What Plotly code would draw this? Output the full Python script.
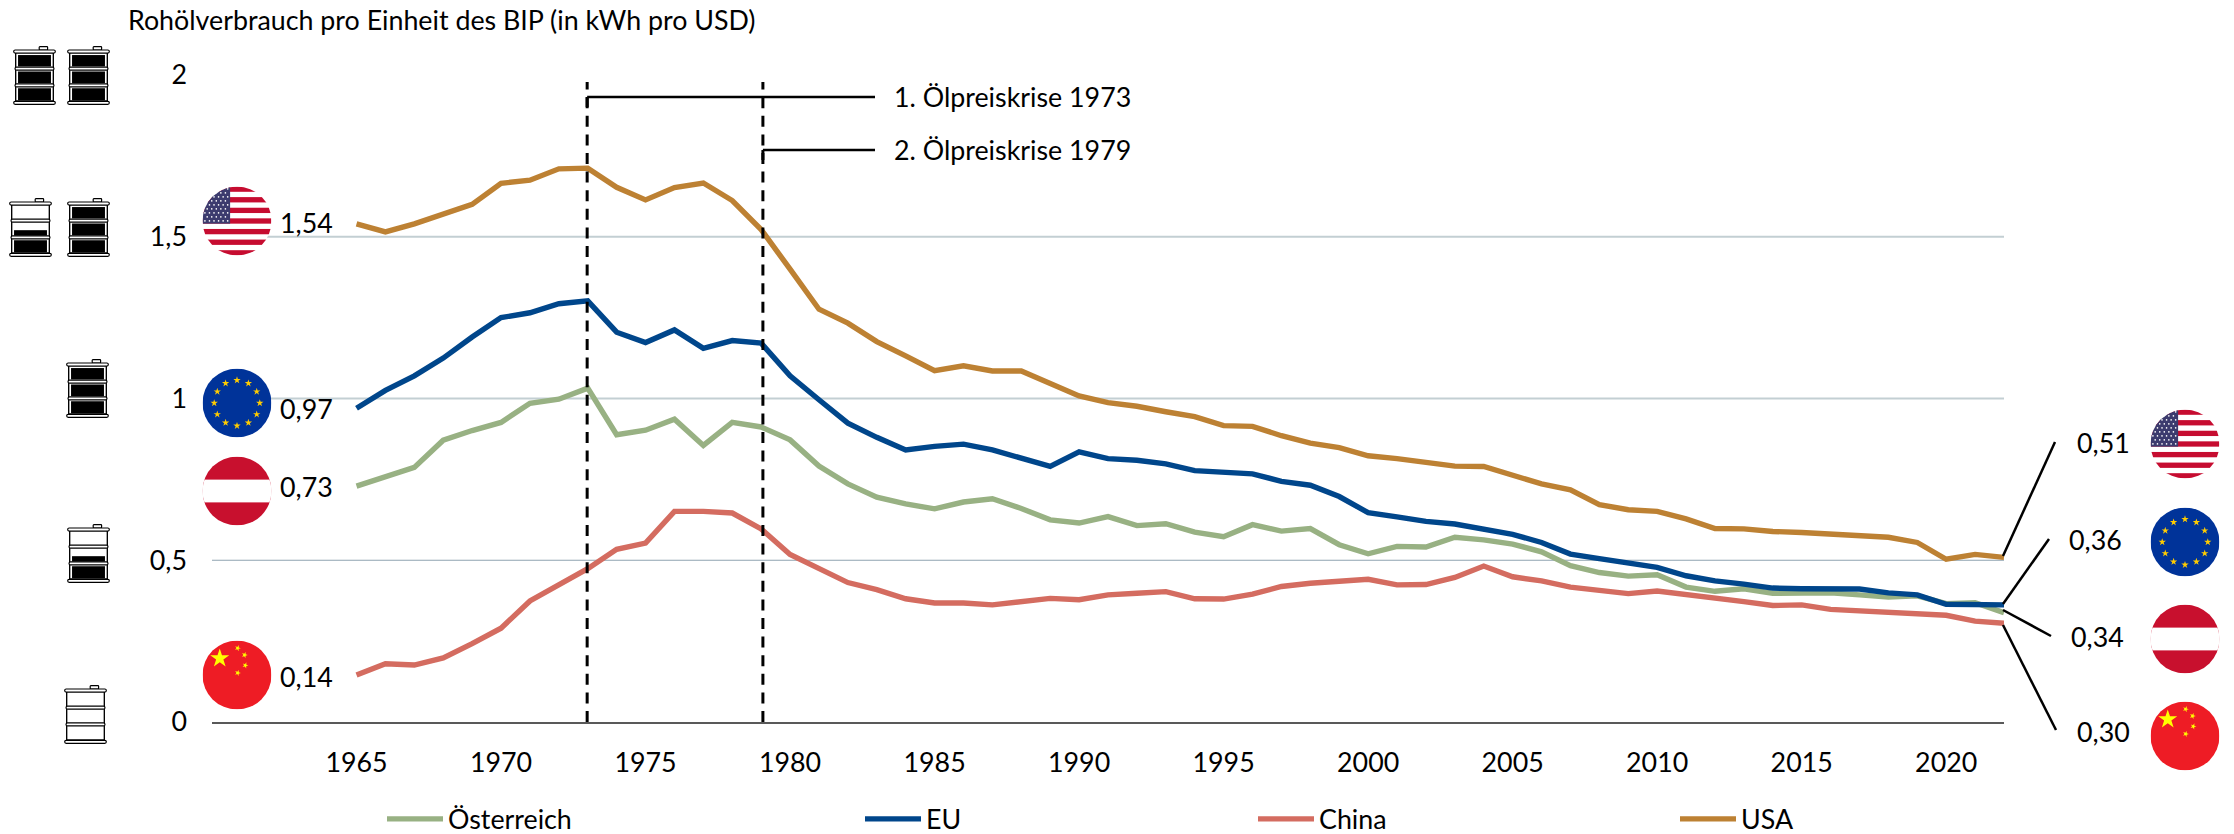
import base64, math
import plotly.graph_objects as go

YEARS = list(range(1965, 2023))
AUSTRIA = [.729,.760,.787,.871,.901,.926,.985,.998,1.032,.888,.902,.936,.855,.926,.912,.872,.791,.736,.695,.674,
           .659,.680,.690,.660,.625,.615,.635,.607,.613,.587,.573,.610,.590,.598,.548,.520,.543,.541,.571,.563,
           .550,.526,.483,.462,.451,.455,.417,.404,.412,.398,.398,.399,.393,.386,.390,.366,.369,.338]
EU = [.970,1.025,1.070,1.125,1.190,1.250,1.265,1.293,1.302,1.205,1.173,1.212,1.155,1.179,1.171,1.070,.996,.924,.880,.841,
      .852,.859,.841,.815,.790,.835,.814,.809,.798,.777,.770,.767,.744,.732,.697,.647,.634,.620,.612,.594,
      .580,.555,.519,.505,.493,.478,.452,.436,.426,.414,.412,.410,.411,.399,.393,.364,.363,.362]
CHINA = [.145,.180,.176,.198,.242,.290,.374,.423,.474,.534,.553,.651,.651,.646,.597,.518,.474,.431,.409,.381,
         .368,.368,.362,.370,.382,.378,.393,.398,.403,.381,.380,.395,.419,.429,.436,.441,.424,.425,.447,.482,
         .449,.436,.417,.408,.397,.405,.395,.384,.372,.360,.362,.348,.343,.338,.334,.330,.312,.305]
USA = [1.540,1.515,1.540,1.570,1.600,1.665,1.675,1.710,1.712,1.653,1.614,1.652,1.666,1.612,1.522,1.400,1.276,1.233,1.176,1.132,
       1.086,1.101,1.085,1.085,1.047,1.008,.987,.976,.959,.944,.916,.914,.885,.862,.848,.823,.814,.801,.791,.790,
       .765,.736,.718,.672,.656,.651,.628,.598,.597,.589,.586,.581,.575,.571,.555,.503,.518,.509]

SERIES_NAMES = ["Österreich", "EU", "China", "USA"]
SERIES_COLORS = ["#98B183", "#00468B", "#D46C60", "#BD8133"]
X_TICKS = list(range(1965, 2021, 5))
Y_TICKS = [0, 0.5, 1, 1.5, 2]
Y_LABELS = ["0", "0,5", "1", "1,5", "2"]
TITLE = "Rohölverbrauch pro Einheit des BIP (in kWh pro USD)"
CRISIS_YEARS = [1973, 1979]
CRISIS_LABELS = ["1. Ölpreiskrise 1973", "2. Ölpreiskrise 1979"]
START_LABELS = ["0,73", "0,97", "0,14", "1,54"]
END_LABELS = ["0,34", "0,36", "0,30", "0,51"]

W, H = 2234, 834
L, R, T, B = 212, 2004, 75, 722
FONT = "Lato"
FS = 26.8


def px(x):
    return (x - L) / (R - L)


def py(y):
    return (B - y) / (B - T)


def uri(svg):
    return "data:image/svg+xml;base64," + base64.b64encode(svg.encode()).decode()


def star(cx, cy, r, fill, rot=0):
    pts = []
    for i in range(10):
        rr = r if i % 2 == 0 else r * 0.382
        a = math.radians(-90 + 36 * i + rot)
        pts.append(f"{cx + rr * math.cos(a):.2f},{cy + rr * math.sin(a):.2f}")
    return f'<polygon points="{" ".join(pts)}" fill="{fill}"/>'


def flag(body):
    return uri('<svg xmlns="http://www.w3.org/2000/svg" width="400" height="400" viewBox="0 0 100 100">'
               '<defs><clipPath id="c"><circle cx="50" cy="50" r="50"/></clipPath></defs>'
               f'<g clip-path="url(#c)">{body}</g></svg>')


us = '<rect width="100" height="100" fill="#fff"/>'
for i in range(7):
    us += f'<rect y="{i * 200 / 13:.2f}" width="100" height="{100 / 13:.2f}" fill="#C60C30"/>'
us += '<rect width="40" height="53.8" fill="#3C3B6E"/>'
for r_ in range(9):
    for c_ in range(6 if r_ % 2 == 0 else 5):
        us += f'<circle cx="{3.5 + c_ * 6.6 + (3.3 if r_ % 2 else 0):.1f}" cy="{3.5 + r_ * 5.8:.1f}" r="1.2" fill="#fff"/>'
eu = '<rect width="100" height="100" fill="#003399"/>'
for i in range(12):
    a = math.radians(30 * i)
    eu += star(50 + 33 * math.sin(a), 50 - 33 * math.cos(a), 5.6, "#FFCC00")
at = ('<rect width="100" height="100" fill="#C8102E"/>'
      '<rect y="33.5" width="100" height="33" fill="#fff"/>')
cn = '<rect width="100" height="100" fill="#EE1C25"/>' + star(25, 26, 14.5, "#FFFF00")
for sx, sy in [(51, 11), (61, 21), (62, 36), (51, 47)]:
    cn += star(sx, sy, 4.6, "#FFFF00", 20)
FLAGS = {"us": flag(us), "eu": flag(eu), "at": flag(at), "cn": flag(cn)}


def barrel(kind):
    fill = ""
    if kind == "full":
        fill = ('<rect x="15" y="27" width="98" height="34" fill="#000"/>'
                '<rect x="15" y="76" width="98" height="35" fill="#000"/>'
                '<rect x="15" y="126" width="98" height="36" fill="#000"/>')
    elif kind == "half":
        fill = ('<rect x="15" y="96" width="98" height="16" fill="#000"/>'
                '<rect x="15" y="126" width="98" height="36" fill="#000"/>')
    rim = 'fill="#fff" stroke="#000" stroke-width="3.5"'
    return uri('<svg xmlns="http://www.w3.org/2000/svg" width="256" height="352" viewBox="0 0 128 176">'
               f'<rect x="78" y="2" width="25" height="10" rx="2" {rim}/>'
               '<rect x="8" y="14" width="112" height="150" fill="#fff" stroke="#000" stroke-width="4"/>'
               f'{fill}'
               f'<rect x="2" y="12" width="124" height="9" rx="4.5" {rim}/>'
               f'<rect x="6" y="63" width="116" height="9" rx="4.5" {rim}/>'
               f'<rect x="6" y="113" width="116" height="9" rx="4.5" {rim}/>'
               f'<rect x="2" y="165" width="124" height="9" rx="4.5" {rim}/></svg>')


images = []


def add_img(src, x0, y0, x1, y1):
    images.append(dict(source=src, xref="paper", yref="paper", x=px(x0), y=py(y0),
                       sizex=(x1 - x0) / (R - L), sizey=(y1 - y0) / (B - T),
                       xanchor="left", yanchor="top", sizing="stretch", layer="above"))


for key, cx, cy in [("us", 237, 221), ("eu", 237, 403), ("at", 237, 491), ("cn", 237, 675),
                    ("us", 2185, 444), ("eu", 2185, 542), ("at", 2185, 639), ("cn", 2185, 736)]:
    add_img(FLAGS[key], cx - 34.5, cy - 34.5, cx + 34.5, cy + 34.5)

for kind, x0, y0 in [("full", 13, 46), ("full", 67, 46), ("half", 9, 198), ("full", 67, 198),
                     ("full", 66, 359), ("half", 67, 524), ("empty", 64, 685)]:
    add_img(barrel(kind), x0, y0, x0 + 43, y0 + 59)

shapes = []
for val, col, wid in [(0.5, "#8FA3B1", 1.2), (1, "#C3CFD3", 2), (1.5, "#C3CFD3", 2)]:
    shapes.append(dict(type="line", xref="paper", yref="y", x0=0, x1=1, y0=val, y1=val,
                       line=dict(color=col, width=wid), layer="below"))

for yr, top in zip(CRISIS_YEARS, [97, 150]):
    xpos = yr + (0.06 if yr == 1979 else -0.02)
    shapes.append(dict(type="line", xref="x", yref="y", x0=xpos, x1=xpos, y0=0, y1=(B - 82) / (B - T) * 2,
                       line=dict(color="#000", width=3, dash="11px,7.6px"), layer="above"))
    shapes.append(dict(type="line", xref="x", yref="paper", x0=xpos, x1=xpos, y0=py(top), y1=py(top + 10),
                       line=dict(color="#000", width=3), layer="above"))
    shapes.append(dict(type="line", xref="x", yref="paper", x0=xpos, x1=(875 - L) / (R - L) * 62 + 1960, y0=py(top), y1=py(top),
                       line=dict(color="#000", width=2.5), layer="above"))

for x0, y0, x1, y1 in [(2003, 556, 2055, 442), (2003, 604, 2049, 539), (2003, 610, 2051, 636), (2003, 625, 2056, 730)]:
    shapes.append(dict(type="line", xref="paper", yref="paper", x0=px(x0), y0=py(y0), x1=px(x1), y1=py(y1),
                       line=dict(color="#000", width=2.5), layer="above"))

annotations = []


def label(text, x, y, anchor="left"):
    annotations.append(dict(text=text, xref="paper", yref="paper", x=px(x), y=py(y), xanchor=anchor,
                            yanchor="middle", showarrow=False, align="left",
                            font=dict(family=FONT, size=FS, color="#000")))


label(TITLE, 126, 20)
for txt, y in zip(CRISIS_LABELS, [97, 150]):
    label(txt, 892, y)
for txt, y in zip(START_LABELS, [487, 409, 677, 223]):
    label(txt, 335, y, "right")
for txt, x, y in zip(END_LABELS, [2069, 2067, 2075, 2075], [637, 540, 732, 443]):
    label(txt, x, y)

fig = go.Figure()
legend_names = ["legend", "legend2", "legend3", "legend4"]
for name, vals, col, leg in zip(SERIES_NAMES, [AUSTRIA, EU, CHINA, USA], SERIES_COLORS, legend_names):
    fig.add_trace(go.Scatter(x=YEARS, y=vals, name=name, mode="lines", cliponaxis=False, legend=leg,
                             showlegend=True, line=dict(color=col, width=5.4)))

layout_legends = {}
for leg, x in zip(legend_names, [382, 860, 1253, 1675]):
    layout_legends[leg] = dict(x=px(x), y=py(819), xanchor="left", yanchor="middle", bgcolor="rgba(0,0,0,0)",
                               itemwidth=56, font=dict(family=FONT, size=FS, color="#000"),
                               itemclick=False, itemdoubleclick=False)

fig.update_layout(
    width=W, height=H, paper_bgcolor="#fff", plot_bgcolor="#fff", showlegend=True,
    margin=dict(l=L, r=W - R, t=T, b=H - B, autoexpand=False, pad=0),
    font=dict(family=FONT, size=FS, color="#000"),
    xaxis=dict(range=[1960, 2022], tickmode="array", tickvals=X_TICKS, showgrid=False, zeroline=False,
               showline=True, linecolor="#595959", linewidth=1.5, ticks="", ticklabelstandoff=16,
               tickfont=dict(family=FONT, size=FS, color="#000")),
    yaxis=dict(range=[0, 2], tickmode="array", tickvals=Y_TICKS, ticktext=Y_LABELS, showgrid=False,
               zeroline=False, showline=False, ticks="", ticklabelstandoff=24,
               tickfont=dict(family=FONT, size=FS, color="#000")),
    shapes=shapes, images=images, annotations=annotations, **layout_legends,
)
fig.write_html("out.html", config={"displayModeBar": False},
               post_script="document.body.style.margin='0';document.documentElement.style.overflow='hidden';")
